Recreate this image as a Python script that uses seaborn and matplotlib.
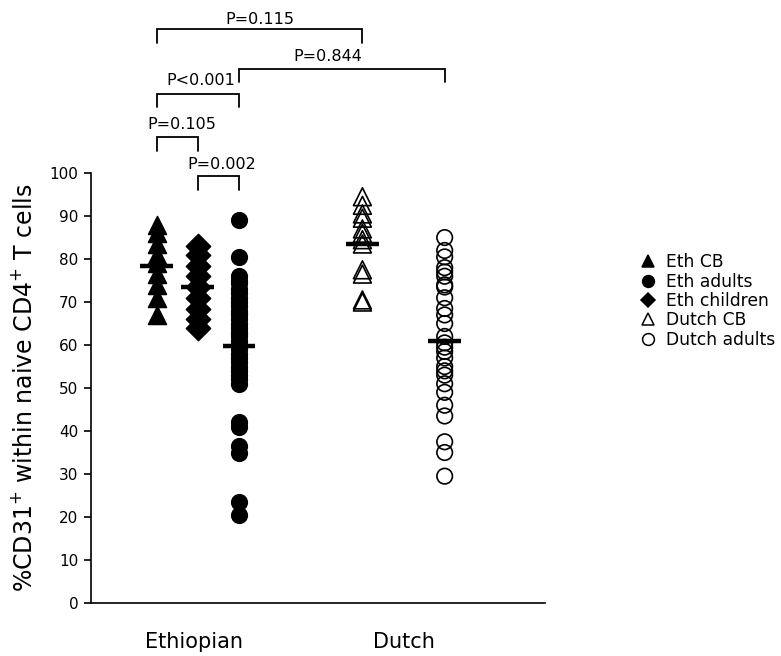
import numpy as np
import pandas as pd
import matplotlib
matplotlib.use("Agg")
import matplotlib.pyplot as plt
import seaborn as sns
from matplotlib.lines import Line2D

sns.set_theme(style="ticks")
plt.rcParams["font.family"] = ["DejaVu Sans"]
plt.rcParams["text.color"] = "black"
plt.rcParams["axes.labelcolor"] = "black"
plt.rcParams["xtick.color"] = "black"
plt.rcParams["ytick.color"] = "black"
plt.rcParams["axes.edgecolor"] = "black"

# %CD31+ within naive CD4+ T cells per subject group
eth_cb = [88, 86, 83.5, 81, 79, 76.5, 74, 71, 67]
eth_children = [83, 81, 78.5, 76, 73.5, 71, 68.5, 66, 64]
eth_adults = [89, 80.5, 76, 75, 74.5, 73, 72, 71, 70, 69, 68, 67.5, 67, 66, 65,
              64, 63, 62.5, 62, 61, 60, 59, 58, 57, 56, 55, 54, 53, 52, 51,
              42, 41, 36.5, 35, 23.5, 20.5]
dutch_cb = [94.5, 92.5, 90.5, 89.5, 87, 86, 84.5, 83.5, 77.5, 76.5, 70.5, 70]
dutch_adults = [85, 82, 80.5, 78, 77, 76, 74, 73.5, 71, 68.5, 67, 65, 62, 60.5,
                59.5, 58.5, 57, 55, 54, 53, 51, 49, 46, 43.5, 37.5, 35, 29.5]

groups = ["Eth CB", "Eth adults", "Eth children", "Dutch CB", "Dutch adults"]
group_values = [eth_cb, eth_adults, eth_children, dutch_cb, dutch_adults]
group_pos = [0, 2, 1, 5, 7]
markers = ["^", "o", "D", "^", "o"]
filled = [True, True, True, False, False]
sizes = [165, 125, 150, 165, 125]

category_labels = ["Ethiopian", "Dutch"]
category_pos = [0.9, 6.0]

# pairwise comparisons: bracket ends, bar height, label, label position
p_labels = ["P=0.115", "P=0.844", "P<0.001", "P=0.105", "P=0.002"]
p_left = [0, 2, 0, 0, 1]
p_right = [5, 7, 2, 1, 2]
p_bar_y = [133.4, 124.3, 118.5, 108.4, 99.3]
p_text_x = [2.5, 4.16, 1.08, 0.6, 1.58]
p_text_y = [135.8, 127.2, 121.6, 111.2, 102.1]
p_leg = 3.2

frames = []
for name, vals, pos in zip(groups, group_values, group_pos):
    frames.append(pd.DataFrame({"group": name, "x": pos, "value": vals}))
df = pd.concat(frames, ignore_index=True)

fig = plt.figure(figsize=(7.81, 6.56), dpi=100)
ax = fig.add_axes([91 / 781, 1 - 603 / 656, (545 - 91) / 781, (603 - 14) / 656])

for name, pos, mk, fl, sz in zip(groups, group_pos, markers, filled, sizes):
    sub = df[df["group"] == name]
    sns.scatterplot(data=sub, x="x", y="value", ax=ax, marker=mk, s=sz,
                    facecolor="black" if fl else "none", edgecolor="black",
                    linewidth=1.2, legend=False, zorder=3)
    m = sub["value"].mean()
    ax.hlines(m, pos - 0.4, pos + 0.4, color="black", lw=3.2, zorder=4)

# significance brackets
for lab, xl, xr, by, tx, ty in zip(p_labels, p_left, p_right, p_bar_y, p_text_x, p_text_y):
    ax.plot([xl, xl, xr, xr], [by - p_leg, by, by, by - p_leg], color="black",
            lw=1.3, clip_on=False, solid_joinstyle="miter")
    ax.text(tx, ty, lab, ha="center", va="center", fontsize=11.5)

ax.set_xlim(-1.6, 9.44)
ax.set_ylim(0, 137)
ax.set_yticks(np.arange(0, 101, 10))
ax.spines["left"].set_bounds(0, 100)
ax.spines["top"].set_visible(False)
ax.spines["right"].set_visible(False)
ax.spines["left"].set_linewidth(1.2)
ax.spines["bottom"].set_linewidth(1.2)
ax.set_xticks(category_pos)
ax.set_xticklabels(category_labels, fontsize=15)
ax.tick_params(axis="x", length=0, pad=21)
ax.tick_params(axis="y", length=5, width=1.2, labelsize=11, direction="out", pad=4)
ax.set_xlabel("")
ax.set_ylabel("%CD31$^{+}$ within naive CD4$^{+}$ T cells", fontsize=17)
ax.yaxis.set_label_coords(-0.118, 100 / 137 / 2)

handles = []
for name, mk, fl in zip(groups, markers, filled):
    handles.append(Line2D([], [], linestyle="none", marker=mk, markersize=8.5 if mk != "D" else 7.5,
                          markerfacecolor="black" if fl else "none",
                          markeredgecolor="black", markeredgewidth=1.1, label=name))
fig.legend(handles=handles, loc="center left", bbox_to_anchor=(633 / 781, 1 - 301 / 656),
           frameon=False, fontsize=12.3, handlelength=1.0, handletextpad=0.55,
           labelspacing=0.08, borderaxespad=0)

fig.savefig("out.png", dpi=100)
